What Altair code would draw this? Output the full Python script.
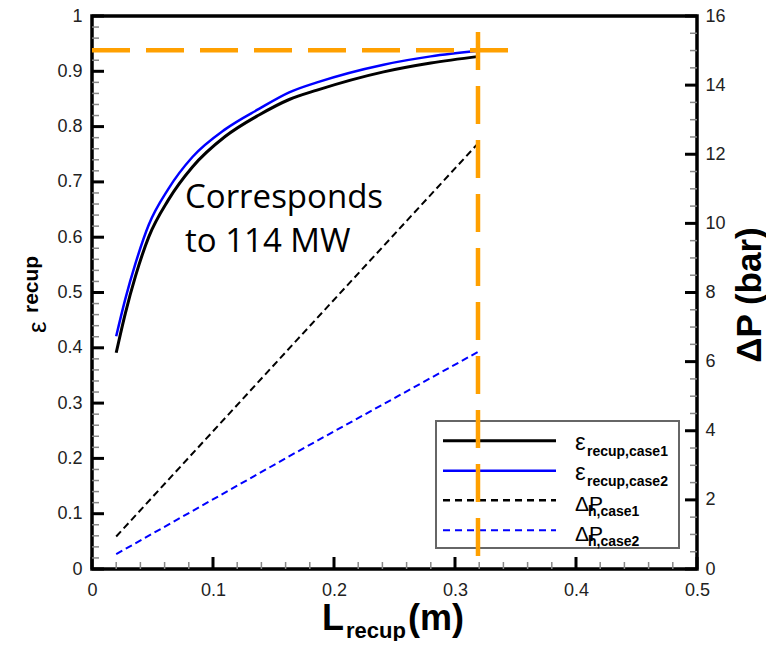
import altair as alt
import pandas as pd

# ---------------- data ----------------
L_recup = [0.02, 0.0275, 0.036, 0.047, 0.063, 0.083, 0.11, 0.138, 0.163, 0.186, 0.241, 0.28, 0.32]
eps_case1 = [0.391, 0.462, 0.530, 0.601, 0.667, 0.727, 0.782, 0.821, 0.849, 0.866, 0.899, 0.915, 0.927]
eps_case2 = [0.421, 0.488, 0.553, 0.623, 0.687, 0.745, 0.795, 0.832, 0.862, 0.880, 0.912, 0.927, 0.937]

L_dp = [0.02, 0.17, 0.32]
dp_case1 = [0.94, 6.65, 12.35]
dp_case2 = [0.43, 3.4, 6.3]

# orange marker lines
mark_L = 0.319
mark_L_eps = [0.971, 0.007]
mark_eps = 0.938
mark_eps_L = [0.0, 0.346]

# axis ticks
x_major = [0, 0.1, 0.2, 0.3, 0.4, 0.5]
x_minor = [round(i * 0.02, 2) for i in range(26) if i % 5]
y_major = [0, 0.1, 0.2, 0.3, 0.4, 0.5, 0.6, 0.7, 0.8, 0.9, 1]
y_minor = [round(i * 0.02, 2) for i in range(51) if i % 5]
r_major = [0, 2, 4, 6, 8, 10, 12, 14, 16]
r_minor = [i * 0.5 for i in range(33) if i % 4]

W, H = 605, 553
ORANGE = "#FFA000"
FONT = "Liberation Sans"

one = pd.DataFrame({"a": [0]})

xscale = alt.Scale(domain=[0, 0.5], nice=False, zero=False)
yscale = alt.Scale(domain=[0, 1], nice=False, zero=False)
rscale = alt.Scale(domain=[0, 16], nice=False, zero=False)

xaxis = alt.Axis(values=x_major, title=None, grid=False, domain=False, ticks=False, tickSize=0,
                 labelPadding=12, labelFontSize=18, labelFont=FONT, labelColor="#222",
                 labelOverlap=False, labelFlush=False, labelExpr="toString(datum.value)")
yaxis = alt.Axis(values=y_major, title=None, grid=False, domain=False, ticks=False, tickSize=0,
                 labelPadding=10, labelFontSize=18, labelFont=FONT, labelColor="#222",
                 labelOverlap=False, labelFlush=False, labelExpr="toString(datum.value)")
raxis = alt.Axis(values=r_major, title=None, grid=False, domain=False, ticks=False, tickSize=0,
                 orient="right", labelPadding=8, labelFontSize=18, labelFont=FONT, labelColor="#222",
                 labelOverlap=False, labelFlush=False)


def X(f):
    return alt.X(f, type="quantitative", scale=xscale, axis=xaxis)


def Y(f):
    return alt.Y(f, type="quantitative", scale=yscale, axis=yaxis)


def R(f):
    return alt.Y(f, type="quantitative", scale=rscale, axis=raxis)


def text(txt, x, y, size, bold=False, angle=0, align="left", font=FONT, color="black"):
    kw = dict(text=txt, fontSize=size, fontWeight="bold" if bold else "normal",
              align=align, baseline="alphabetic", font=font, color=color)
    if angle:
        kw["angle"] = angle
    return alt.Chart(one).mark_text(**kw).encode(x=alt.value(x), y=alt.value(y))


eps_df = pd.DataFrame({"L": L_recup, "e1": eps_case1, "e2": eps_case2})
dp_df = pd.DataFrame({"L": L_dp, "p1": dp_case1, "p2": dp_case2})

# ---------------- epsilon layers ----------------
curve1 = alt.Chart(eps_df).mark_line(color="black", strokeWidth=3, interpolate="monotone").encode(x=X("L"), y=Y("e1"))
curve2 = alt.Chart(eps_df).mark_line(color="#0000FF", strokeWidth=2.5, interpolate="monotone").encode(x=X("L"), y=Y("e2"))

xt_major = alt.Chart(pd.DataFrame({"v": x_major})).mark_rule(color="black", strokeWidth=3).encode(
    x=X("v"), y=alt.value(H), y2=alt.value(H - 12))
xt_minor = alt.Chart(pd.DataFrame({"v": x_minor})).mark_rule(color="#888", strokeWidth=1.5).encode(
    x=X("v"), y=alt.value(H), y2=alt.value(H - 7))
yt_major = alt.Chart(pd.DataFrame({"v": y_major})).mark_rule(color="black", strokeWidth=3).encode(
    y=Y("v"), x=alt.value(0), x2=alt.value(12))
yt_minor = alt.Chart(pd.DataFrame({"v": y_minor})).mark_rule(color="#888", strokeWidth=1.5).encode(
    y=Y("v"), x=alt.value(0), x2=alt.value(7))

orange_v = alt.Chart(pd.DataFrame({"L": [mark_L], "a": [mark_L_eps[0]], "b": [mark_L_eps[1]]})).mark_rule(
    color=ORANGE, strokeWidth=4.5, strokeDash=[38, 16], strokeCap="butt").encode(
    x=X("L"), y=Y("a"), y2="b")
orange_h = alt.Chart(pd.DataFrame({"e": [mark_eps], "a": [mark_eps_L[0]], "b": [mark_eps_L[1]]})).mark_rule(
    color=ORANGE, strokeWidth=4.5, strokeDash=[38, 16], strokeCap="butt").encode(
    y=Y("e"), x=X("a"), x2="b")

# legend
leg_box = alt.Chart(one).mark_rect(fill="white", stroke="#666", strokeWidth=2).encode(
    x=alt.value(344), x2=alt.value(587), y=alt.value(405), y2=alt.value(532))
rows = [424.7, 454.7, 484.3, 514.3]
leg_l1 = alt.Chart(one).mark_rule(color="black", strokeWidth=3).encode(x=alt.value(351), x2=alt.value(464), y=alt.value(rows[0]))
leg_l2 = alt.Chart(one).mark_rule(color="#0000FF", strokeWidth=2.5).encode(x=alt.value(351), x2=alt.value(464), y=alt.value(rows[1]))
leg_l3 = alt.Chart(one).mark_rule(color="black", strokeWidth=2.5, strokeDash=[7, 5]).encode(x=alt.value(351), x2=alt.value(464), y=alt.value(rows[2]))
leg_l4 = alt.Chart(one).mark_rule(color="#0000FF", strokeWidth=2, strokeDash=[7, 5]).encode(x=alt.value(351), x2=alt.value(464), y=alt.value(rows[3]))
leg_txt = [
    text("ε", 483, 434, 24), text("recup,case1", 495, 440, 14, bold=True),
    text("ε", 483, 464, 24), text("recup,case2", 495, 470, 14, bold=True),
    text("ΔP", 483, 495, 21), text("h,case1", 496, 500, 14, bold=True),
    text("ΔP", 483, 525, 21), text("h,case2", 496, 530, 14, bold=True),
]

# annotation and axis titles
annot = [
    text("Corresponds", 93, 192, 33, font="Open Sans"),
    text("to 114 MW", 93, 236, 33, font="Open Sans"),
    text("ε", -46, 317, 26, angle=270),
    text("recup", -54, 297, 21, bold=True, angle=270),
    text("ΔP (bar)", 669, 279, 35, bold=True, angle=270, align="center"),
    text("L", 230, 614, 36, bold=True),
    text("recup", 254, 622, 22, bold=True),
    text("(m)", 316, 614, 36, bold=True),
]

eps_layer = alt.layer(
    xt_minor, xt_major, yt_minor, yt_major,
    curve1, curve2,
    leg_box, leg_l1, leg_l2, leg_l3, leg_l4, *leg_txt,
    orange_h, orange_v,
    *annot,
)

# ---------------- delta P layers ----------------
dp1 = alt.Chart(dp_df).mark_line(color="black", strokeWidth=2, strokeDash=[7, 4]).encode(x=X("L"), y=R("p1"))
dp2 = alt.Chart(dp_df).mark_line(color="#0000FF", strokeWidth=2, strokeDash=[7, 4]).encode(x=X("L"), y=R("p2"))
rt_major = alt.Chart(pd.DataFrame({"v": r_major})).mark_rule(color="black", strokeWidth=3).encode(
    y=R("v"), x=alt.value(W), x2=alt.value(W - 12))
rt_minor = alt.Chart(pd.DataFrame({"v": r_minor})).mark_rule(color="#888", strokeWidth=1.5).encode(
    y=R("v"), x=alt.value(W), x2=alt.value(W - 7))

dp_layer = alt.layer(dp1, dp2, rt_minor, rt_major)

chart = alt.layer(dp_layer, eps_layer).resolve_scale(y="independent").properties(
    width=W, height=H,
    autosize=alt.AutoSizeParams(type="none"),
    padding={"left": 84, "top": 8, "right": 69, "bottom": 72},
    background="white",
).configure_view(stroke="black", strokeWidth=3.5)

chart.save("out.html", embed_options={"renderer": "svg", "actions": False})
